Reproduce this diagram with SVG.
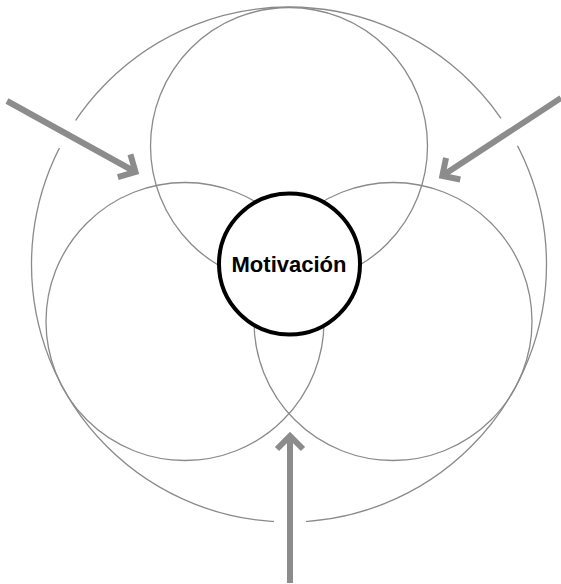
<svg xmlns="http://www.w3.org/2000/svg" width="561" height="584" viewBox="0 0 561 584">
<style>
.ring{fill:none;stroke:#8a8a8a;stroke-width:1.3}
.halo{stroke:#ffffff;stroke-width:32;fill:none}
.arrow{stroke:#8c8c8c;stroke-width:6;fill:none}
.core{fill:#ffffff;stroke:#000000;stroke-width:4}
.label{font-family:"Liberation Sans",Arial,sans-serif;font-weight:bold;font-size:22px;fill:#000000}
</style>
<defs>
<marker id="chev" markerUnits="userSpaceOnUse" markerWidth="40" markerHeight="40" viewBox="-20 -20 40 40" refX="0" refY="0" orient="auto" overflow="visible">
<path d="M -13 -13 L 0 0 L -13 13" fill="none" stroke="#8c8c8c" stroke-width="6" stroke-miterlimit="10"/>
</marker>
</defs>
<rect width="561" height="584" fill="#ffffff"/>
<g id="outer-circle">
<circle class="ring" cx="289" cy="264.5" r="257.5"/>
</g>
<g id="arrow-halos">
<line class="halo" x1="40" y1="119" x2="96" y2="150"/>
<line class="halo" x1="535" y1="115" x2="485" y2="148"/>
<line class="halo" x1="290" y1="503" x2="290" y2="542"/>
</g>
<g id="top-circle">
<circle class="ring" cx="289" cy="146" r="138.5"/>
</g>
<g id="left-circle">
<circle class="ring" cx="185" cy="321.5" r="139"/>
</g>
<g id="right-circle">
<circle class="ring" cx="393" cy="321.5" r="139"/>
</g>
<g id="motivacion">
<circle class="core" cx="289.5" cy="264" r="70.5"/>
<text class="label" x="289" y="271.5" text-anchor="middle">Motivación</text>
</g>
<g id="connectors">
<line class="arrow" x1="7" y1="101" x2="135.5" y2="172" marker-end="url(#chev)"/>
<line class="arrow" x1="561" y1="98" x2="442.3" y2="175.8" marker-end="url(#chev)"/>
<line class="arrow" x1="290" y1="583" x2="290" y2="436" marker-end="url(#chev)"/>
</g>
</svg>
